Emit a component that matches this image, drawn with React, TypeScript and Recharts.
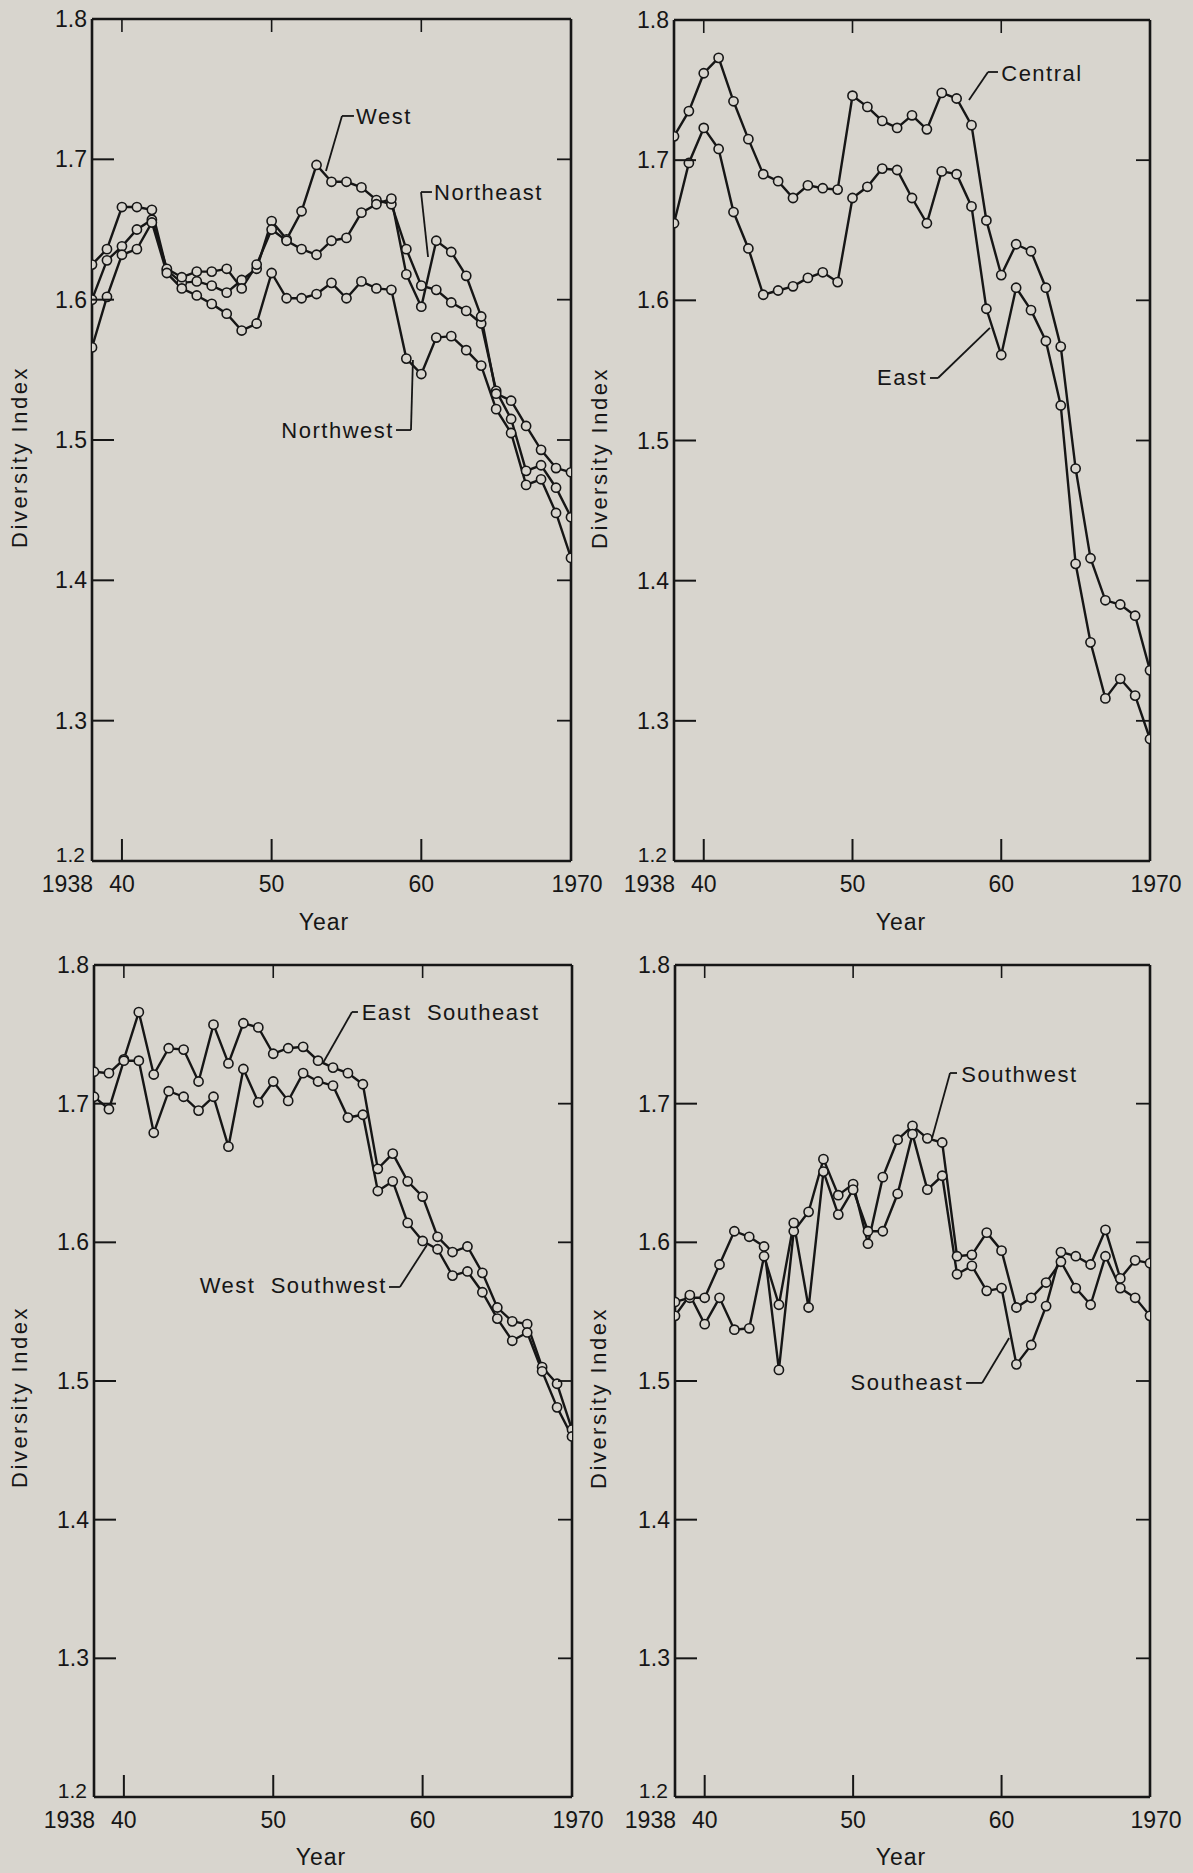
import React from 'react';
import { LineChart, Line, XAxis, YAxis, ReferenceLine, ReferenceDot } from 'recharts';

const BG = '#d8d5ce';
const INK = '#161616';
const FONT = "'Liberation Sans', Arial, Helvetica, sans-serif";

// ---------- data ----------
const years = [
  1938, 1939, 1940, 1941, 1942, 1943, 1944, 1945, 1946, 1947, 1948,
  1949, 1950, 1951, 1952, 1953, 1954, 1955, 1956, 1957, 1958, 1959,
  1960, 1961, 1962, 1963, 1964, 1965, 1966, 1967, 1968, 1969, 1970,
];

const xTicks = [1938, 1940, 1950, 1960, 1970];
const xTickLabels = ['1938', '40', '50', '60', '1970'];
const yTicks = [1.2, 1.3, 1.4, 1.5, 1.6, 1.7, 1.8];
const yTickLabels = ['1.2', '1.3', '1.4', '1.5', '1.6', '1.7', '1.8'];

// Panel 1
const west = [1.625, 1.636, 1.666, 1.666, 1.664, 1.621, 1.612, 1.613, 1.610, 1.605, 1.614, 1.622, 1.656, 1.643, 1.663, 1.696, 1.684, 1.684, 1.680, 1.671, 1.668, 1.636, 1.610, 1.607, 1.598, 1.592, 1.583, 1.535, 1.515, 1.478, 1.482, 1.466, 1.445];
const northeast = [1.600, 1.628, 1.638, 1.650, 1.657, 1.622, 1.616, 1.620, 1.620, 1.622, 1.608, 1.625, 1.650, 1.642, 1.636, 1.632, 1.642, 1.644, 1.662, 1.668, 1.672, 1.618, 1.595, 1.642, 1.634, 1.617, 1.588, 1.533, 1.528, 1.510, 1.493, 1.480, 1.477];
const northwest = [1.566, 1.602, 1.632, 1.636, 1.655, 1.619, 1.608, 1.603, 1.597, 1.590, 1.578, 1.583, 1.619, 1.601, 1.601, 1.604, 1.612, 1.601, 1.613, 1.608, 1.607, 1.558, 1.547, 1.573, 1.574, 1.564, 1.553, 1.522, 1.505, 1.468, 1.472, 1.448, 1.416];

// Panel 2
const central = [1.717, 1.735, 1.762, 1.773, 1.742, 1.715, 1.690, 1.685, 1.673, 1.682, 1.680, 1.679, 1.746, 1.738, 1.728, 1.723, 1.732, 1.722, 1.748, 1.744, 1.725, 1.657, 1.618, 1.640, 1.635, 1.609, 1.567, 1.480, 1.416, 1.386, 1.383, 1.375, 1.336];
const east = [1.655, 1.698, 1.723, 1.708, 1.663, 1.637, 1.604, 1.607, 1.610, 1.616, 1.620, 1.613, 1.673, 1.681, 1.694, 1.693, 1.673, 1.655, 1.692, 1.690, 1.667, 1.594, 1.561, 1.609, 1.593, 1.571, 1.525, 1.412, 1.356, 1.316, 1.330, 1.318, 1.287];

// Panel 3
const eastSoutheast = [1.723, 1.722, 1.732, 1.766, 1.721, 1.740, 1.739, 1.716, 1.757, 1.729, 1.758, 1.755, 1.736, 1.740, 1.741, 1.731, 1.726, 1.722, 1.714, 1.653, 1.664, 1.644, 1.633, 1.604, 1.593, 1.597, 1.578, 1.553, 1.543, 1.541, 1.510, 1.498, 1.465];
const westSouthwest = [1.705, 1.696, 1.731, 1.731, 1.679, 1.709, 1.705, 1.695, 1.705, 1.669, 1.725, 1.701, 1.716, 1.702, 1.722, 1.716, 1.713, 1.690, 1.692, 1.637, 1.644, 1.614, 1.601, 1.595, 1.576, 1.579, 1.564, 1.545, 1.529, 1.535, 1.507, 1.481, 1.460];

// Panel 4
const southwest = [1.557, 1.560, 1.560, 1.584, 1.608, 1.604, 1.597, 1.508, 1.608, 1.622, 1.660, 1.634, 1.642, 1.599, 1.647, 1.674, 1.684, 1.675, 1.672, 1.590, 1.591, 1.607, 1.594, 1.553, 1.560, 1.571, 1.586, 1.567, 1.555, 1.590, 1.567, 1.560, 1.547];
const southeast = [1.547, 1.562, 1.541, 1.560, 1.537, 1.538, 1.590, 1.555, 1.614, 1.553, 1.651, 1.620, 1.638, 1.608, 1.608, 1.635, 1.678, 1.638, 1.648, 1.577, 1.583, 1.565, 1.567, 1.512, 1.526, 1.554, 1.593, 1.590, 1.584, 1.609, 1.574, 1.587, 1.585];

// Annotations (in data coordinates: year, index value)
type Note = { text: string; x: number; y: number; anchor: 'start' | 'end'; leader: [number, number][] };

const notes1: Note[] = [
  { text: 'West', x: 1955.64, y: 1.7302, anchor: 'start', leader: [[1955.5, 1.7309], [1954.7, 1.7309], [1953.63, 1.6917]] },
  { text: 'Northeast', x: 1960.85, y: 1.6767, anchor: 'start', leader: [[1960.71, 1.6767], [1959.98, 1.6767], [1960.45, 1.6304]] },
  { text: 'Northwest', x: 1958.17, y: 1.5071, anchor: 'end', leader: [[1958.31, 1.5071], [1959.31, 1.5071], [1959.44, 1.557]] },
];
const notes2: Note[] = [
  { text: 'Central', x: 1960.0, y: 1.7615, anchor: 'start', leader: [[1959.78, 1.7629], [1959.11, 1.7629], [1957.83, 1.7429]] },
  { text: 'East', x: 1955.01, y: 1.5446, anchor: 'end', leader: [[1955.21, 1.5446], [1955.75, 1.5446], [1959.24, 1.5803]] },
];
const notes3: Note[] = [
  { text: 'East  Southeast', x: 1955.92, y: 1.7654, anchor: 'start', leader: [[1955.67, 1.7661], [1955.27, 1.7661], [1953.33, 1.7293]] },
  { text: 'West  Southwest', x: 1957.61, y: 1.5692, anchor: 'end', leader: [[1957.75, 1.5678], [1958.48, 1.5678], [1960.29, 1.5981]] },
];
const notes4: Note[] = [
  { text: 'Southwest', x: 1957.29, y: 1.7207, anchor: 'start', leader: [[1957.0, 1.7221], [1956.53, 1.7221], [1955.32, 1.6752]] },
  { text: 'Southeast', x: 1957.41, y: 1.4986, anchor: 'end', leader: [[1957.61, 1.4986], [1958.69, 1.4986], [1960.51, 1.531]] },
];

type Series = { name: string; values: number[] };

function buildRows(series: Series[]) {
  return years.map((year, i) => {
    const row: Record<string, number> = { year };
    series.forEach((s) => {
      row[s.name] = s.values[i];
    });
    return row;
  });
}

type PanelCfg = {
  left: number;
  top: number;
  width: number;
  height: number;
  margin: { top: number; right: number; bottom: number; left: number };
  yw: number;
  xh: number;
  series: Series[];
  notes: Note[];
  yTitle: [number, number];
  xTitle: [number, number];
};

const panels: PanelCfg[] = [
  {
    left: 0, top: 0, width: 620, height: 900,
    margin: { top: 19, right: 49, bottom: 0, left: 0 }, yw: 92, xh: 39,
    series: [
      { name: 'West', values: west },
      { name: 'Northeast', values: northeast },
      { name: 'Northwest', values: northwest },
    ],
    notes: notes1, yTitle: [20, 457], xTitle: [324, 922],
  },
  {
    left: 590, top: 0, width: 600, height: 900,
    margin: { top: 20, right: 40, bottom: 0, left: 0 }, yw: 84, xh: 39,
    series: [
      { name: 'Central', values: central },
      { name: 'East', values: east },
    ],
    notes: notes2, yTitle: [600, 458], xTitle: [901, 922],
  },
  {
    left: 0, top: 940, width: 620, height: 897,
    margin: { top: 25, right: 48, bottom: 0, left: 0 }, yw: 94, xh: 40,
    series: [
      { name: 'East Southeast', values: eastSoutheast },
      { name: 'West Southwest', values: westSouthwest },
    ],
    notes: notes3, yTitle: [20, 1397], xTitle: [321, 1857],
  },
  {
    left: 590, top: 940, width: 600, height: 897,
    margin: { top: 25, right: 40, bottom: 0, left: 0 }, yw: 85, xh: 40,
    series: [
      { name: 'Southwest', values: southwest },
      { name: 'Southeast', values: southeast },
    ],
    notes: notes4, yTitle: [599, 1398], xTitle: [901, 1857],
  },
];

const FRAME_W = 2.6;

function Panel({ cfg }: { cfg: PanelCfg }) {
  const { width, height, margin, yw, xh, series, notes } = cfg;
  const pw = width - margin.left - margin.right - yw;
  const ph = height - margin.top - margin.bottom - xh;
  const rows = buildRows(series);

  const bottomTick = (p: any) => {
    const { x, y, payload } = p;
    const v = payload.value as number;
    const i = xTicks.indexOf(v);
    const label = i >= 0 ? xTickLabels[i] : String(v);
    const inner = v !== 1938 && v !== 1970;
    let tx = x;
    let anchor: 'middle' | 'end' = 'middle';
    if (v === 1938) {
      tx = x + 1;
      anchor = 'end';
    }
    if (v === 1970) tx = x + 6;
    return (
      <g>
        {inner && <line x1={x} x2={x} y1={y} y2={y - 22} stroke={INK} strokeWidth={2} />}
        {inner && <line x1={x} x2={x} y1={y - ph} y2={y - ph + 13} stroke={INK} strokeWidth={1.6} />}
        <text x={tx} y={y + 23} textAnchor={anchor} dominantBaseline="central" fontSize={23} fill={INK} fontFamily={FONT}>
          {label}
        </text>
      </g>
    );
  };

  const leftTick = (p: any) => {
    const { x, y, payload } = p;
    const v = payload.value as number;
    let idx = 0;
    yTicks.forEach((t, k) => {
      if (Math.abs(t - v) < 1e-6) idx = k;
    });
    const inner = idx > 0 && idx < yTicks.length - 1;
    const isBottom = idx === 0;
    return (
      <g>
        {inner && <line x1={x} x2={x + 22} y1={y} y2={y} stroke={INK} strokeWidth={2} />}
        {inner && <line x1={x + pw - 14} x2={x + pw} y1={y} y2={y} stroke={INK} strokeWidth={1.8} />}
        <text
          x={isBottom ? x - 7 : x - 5}
          y={isBottom ? y - 7 : y}
          textAnchor="end"
          dominantBaseline="central"
          fontSize={isBottom ? 21 : 23}
          fill={INK}
          fontFamily={FONT}
        >
          {yTickLabels[idx]}
        </text>
      </g>
    );
  };

  return (
    <div style={{ position: 'absolute', left: cfg.left, top: cfg.top, width, height }}>
      <LineChart width={width} height={height} data={rows} margin={margin}>
        <XAxis
          dataKey="year"
          type="number"
          domain={[1938, 1970]}
          ticks={xTicks}
          interval={0}
          tick={bottomTick}
          tickLine={false}
          tickSize={0}
          tickMargin={0}
          axisLine={{ stroke: INK, strokeWidth: FRAME_W }}
          height={xh}
          allowDataOverflow
        />
        <YAxis
          type="number"
          domain={[1.2, 1.8]}
          ticks={yTicks}
          interval={0}
          tick={leftTick}
          tickLine={false}
          tickSize={0}
          tickMargin={0}
          axisLine={{ stroke: INK, strokeWidth: FRAME_W }}
          width={yw}
          allowDataOverflow
        />
        <ReferenceLine y={1.8} stroke={INK} strokeWidth={FRAME_W} />
        <ReferenceLine x={1970} stroke={INK} strokeWidth={FRAME_W} />
        {notes.map((n, k) =>
          n.leader.slice(1).map((pt, j) => (
            <ReferenceLine
              key={`l${k}-${j}`}
              segment={[
                { x: n.leader[j][0], y: n.leader[j][1] },
                { x: pt[0], y: pt[1] },
              ]}
              stroke={INK}
              strokeWidth={1.8}
              ifOverflow="visible"
            />
          ))
        )}
        {series.map((s) => (
          <Line
            key={s.name}
            type="linear"
            dataKey={s.name}
            stroke={INK}
            strokeWidth={2.4}
            dot={{ r: 4.6, fill: BG, stroke: INK, strokeWidth: 1.6 }}
            activeDot={false}
            isAnimationActive={false}
          />
        ))}
        {notes.map((n, k) => (
          <ReferenceDot
            key={`t${k}`}
            x={n.x}
            y={n.y}
            r={0}
            ifOverflow="visible"
            shape={(p: any) => (
              <text
                x={p.cx}
                y={p.cy}
                textAnchor={n.anchor}
                dominantBaseline="central"
                fontSize={22}
                letterSpacing={1.5}
                fill={INK}
                fontFamily={FONT}
                style={{ whiteSpace: 'pre' }}
              >
                {n.text}
              </text>
            )}
          />
        ))}
      </LineChart>
    </div>
  );
}

export default function App() {
  return (
    <div style={{ position: 'absolute', left: 0, top: 0, width: 1193, height: 1873, background: BG, overflow: 'hidden', fontFamily: FONT, color: INK }}>
      {panels.map((cfg, i) => (
        <React.Fragment key={i}>
          <Panel cfg={cfg} />
          <div
            style={{
              position: 'absolute',
              left: cfg.yTitle[0],
              top: cfg.yTitle[1],
              transform: 'translate(-50%, -50%) rotate(-90deg)',
              whiteSpace: 'nowrap',
              fontSize: 22,
              letterSpacing: 2.5,
              lineHeight: 1,
            }}
          >
            Diversity Index
          </div>
          <div
            style={{
              position: 'absolute',
              left: cfg.xTitle[0],
              top: cfg.xTitle[1],
              transform: 'translate(-50%, -50%)',
              whiteSpace: 'nowrap',
              fontSize: 23,
              letterSpacing: 1,
              lineHeight: 1,
            }}
          >
            Year
          </div>
        </React.Fragment>
      ))}
    </div>
  );
}
